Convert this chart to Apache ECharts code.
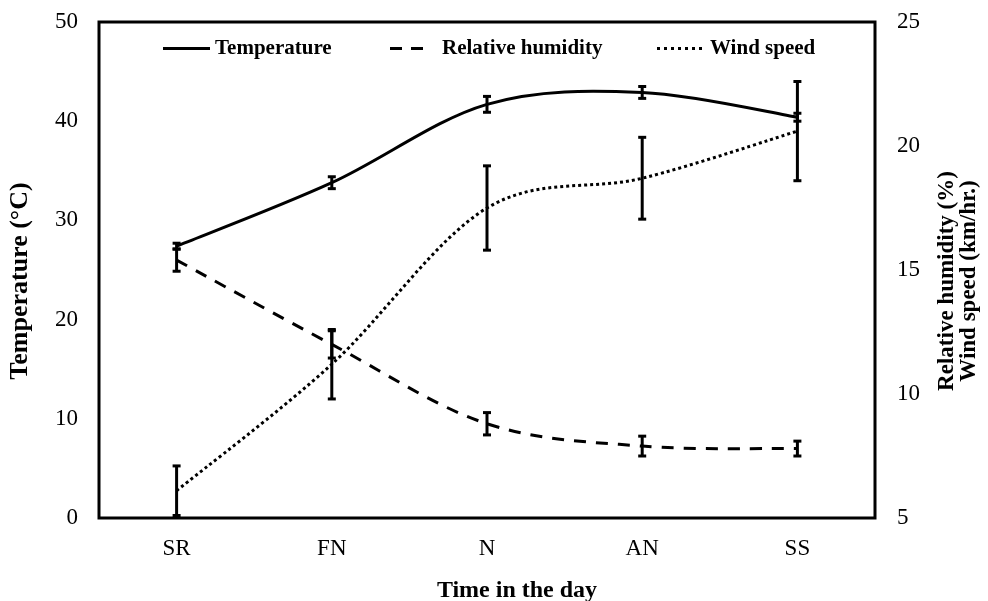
<!DOCTYPE html>
<html>
<head>
<meta charset="utf-8">
<script src="https://cdn.jsdelivr.net/npm/echarts@6/dist/echarts.min.js"></script>
<style>
html,body{margin:0;padding:0;background:#fff;}
#chart{width:988px;height:601px;}
</style>
</head>
<body>
<div id="chart"></div>
<script>
// ---- data ----
var categories = ['SR', 'FN', 'N', 'AN', 'SS'];
// Temperature (°C), left axis
var temperature = [27.4, 33.8, 41.7, 42.9, 40.4];
var temperatureErr = [0.3, 0.6, 0.8, 0.6, 0.4];
// Relative humidity (%), right axis
var humidity = [15.4, 12.0, 8.8, 7.9, 7.8];
var humidityErr = [0.45, 0.55, 0.45, 0.4, 0.3];
// Wind speed (km/hr.), right axis
var windSpeed = [6.1, 11.2, 17.5, 18.7, 20.6];
var windSpeedErr = [1.0, 1.4, 1.7, 1.65, 2.0];
// axis ticks
var leftTicks = {min: 0, max: 50, interval: 10};
var rightTicks = {min: 5, max: 25, interval: 5};

var FONT = '"Liberation Serif", "Times New Roman", serif';

// smoothed curve (Catmull-Rom style bezier through every data point, in pixel space)
function curveSeries(name, vals, axisIdx, dash) {
  return {
    type: 'custom',
    name: name,
    yAxisIndex: axisIdx,
    silent: true,
    z: 3,
    itemStyle: {color: '#000'},
    data: vals.map(function (v, i) { return [i, v]; }),
    renderItem: function (params, api) {
      if (params.dataIndexInside !== 0) return null;
      var n = params.dataInsideLength;
      var p = [];
      for (var j = 0; j < n; j++) p.push(api.coord([api.value(0, j), api.value(1, j)]));
      var d = 'M' + p[0][0] + ',' + p[0][1];
      for (var i = 0; i < n - 1; i++) {
        var p0 = p[Math.max(i - 1, 0)], p1 = p[i], p2 = p[i + 1], p3 = p[Math.min(i + 2, n - 1)];
        var c1x = p1[0] + (p2[0] - p0[0]) / 6, c1y = p1[1] + (p2[1] - p0[1]) / 6;
        var c2x = p2[0] - (p3[0] - p1[0]) / 6, c2y = p2[1] - (p3[1] - p1[1]) / 6;
        d += ' C' + c1x + ',' + c1y + ' ' + c2x + ',' + c2y + ' ' + p2[0] + ',' + p2[1];
      }
      return {
        type: 'path',
        shape: {pathData: d},
        style: {fill: 'none', stroke: '#000', lineWidth: 3, lineDash: dash || null}
      };
    }
  };
}

function errorBarSeries(vals, errs, axisIdx) {
  return {
    type: 'custom',
    yAxisIndex: axisIdx,
    silent: true,
    z: 5,
    data: vals.map(function (v, i) { return [i, v - errs[i], v + errs[i]]; }),
    renderItem: function (params, api) {
      var x = api.value(0);
      var lo = api.coord([x, api.value(1)]);
      var hi = api.coord([x, api.value(2)]);
      var hw = 4;
      var st = {stroke: '#000', lineWidth: 3};
      return {
        type: 'group',
        children: [
          {type: 'line', shape: {x1: lo[0], y1: lo[1], x2: hi[0], y2: hi[1]}, style: st},
          {type: 'line', shape: {x1: lo[0] - hw, y1: lo[1], x2: lo[0] + hw, y2: lo[1]}, style: st},
          {type: 'line', shape: {x1: hi[0] - hw, y1: hi[1], x2: hi[0] + hw, y2: hi[1]}, style: st}
        ]
      };
    }
  };
}

var legendText = {fontFamily: FONT, fontWeight: 'bold', fontSize: 21, color: '#000'};
function legendBox(name, left, width, icon, textPad) {
  return {
    left: left, top: 33,
    itemWidth: width, itemHeight: 3,
    data: [{name: name, icon: icon}],
    selectedMode: false,
    textStyle: Object.assign({}, legendText, {padding: [0, 0, 0, textPad]})
  };
}

var chart = echarts.init(document.getElementById('chart'), null, {renderer: 'canvas'});
chart.setOption({
  animation: false,
  backgroundColor: '#fff',
  textStyle: {fontFamily: FONT, color: '#000'},
  grid: {left: 99, right: 113, top: 22, bottom: 83, show: true, borderColor: '#000', borderWidth: 3,
         containLabel: false, outerBoundsMode: 'none'},
  legend: [
    legendBox('Temperature', 158, 47, 'path://M0,0h47v3h-47z', 0),
    legendBox('Relative humidity', 385, 33, 'path://M0,0h12v3h-12zM21,0h12v3h-12z', 14),
    legendBox('Wind speed', 652, 45, 'path://M0,0h3v3h-3zM7,0h3v3h-3zM14,0h3v3h-3zM21,0h3v3h-3zM28,0h3v3h-3zM35,0h3v3h-3zM42,0h3v3h-3z', 3)
  ],
  xAxis: {
    type: 'category',
    data: categories,
    boundaryGap: true,
    axisLine: {show: false},
    axisTick: {show: false},
    axisLabel: {fontFamily: FONT, fontSize: 23, color: '#000', margin: 19},
    name: 'Time in the day',
    nameLocation: 'middle',
    nameGap: 61,
    nameTextStyle: {fontFamily: FONT, fontWeight: 'bold', fontSize: 24, color: '#000', padding: [0, 0, 0, 60]}
  },
  yAxis: [{
    type: 'value',
    min: leftTicks.min, max: leftTicks.max, interval: leftTicks.interval,
    axisLine: {show: false}, axisTick: {show: false}, splitLine: {show: false},
    axisLabel: {fontFamily: FONT, fontSize: 23, color: '#000', margin: 21, padding: [8, 0, 0, 0]},
    name: 'Temperature (°C)',
    nameLocation: 'middle', nameRotate: 90, nameGap: 66,
    nameTextStyle: {fontFamily: FONT, fontWeight: 'bold', fontSize: 26, color: '#000', padding: [0, 22, 0, 0]}
  }, {
    type: 'value',
    position: 'right',
    min: rightTicks.min, max: rightTicks.max, interval: rightTicks.interval,
    axisLine: {show: false}, axisTick: {show: false}, splitLine: {show: false},
    axisLabel: {fontFamily: FONT, fontSize: 23, color: '#000', margin: 22, padding: [8, 0, 0, 0]},
    name: 'Relative humidity (%)\nWind speed (km/hr.)',
    nameLocation: 'middle', nameRotate: 90, nameGap: 61,
    nameTextStyle: {fontFamily: FONT, fontWeight: 'bold', fontSize: 23, color: '#000', lineHeight: 22, align: 'center', padding: [0, 22, 0, 0]}
  }],
  series: [
    curveSeries('Temperature', temperature, 0, null),
    curveSeries('Relative humidity', humidity, 1, [12, 10]),
    curveSeries('Wind speed', windSpeed, 1, [3, 3]),
    errorBarSeries(temperature, temperatureErr, 0),
    errorBarSeries(humidity, humidityErr, 1),
    errorBarSeries(windSpeed, windSpeedErr, 1)
  ]
});
</script>
</body>
</html>
